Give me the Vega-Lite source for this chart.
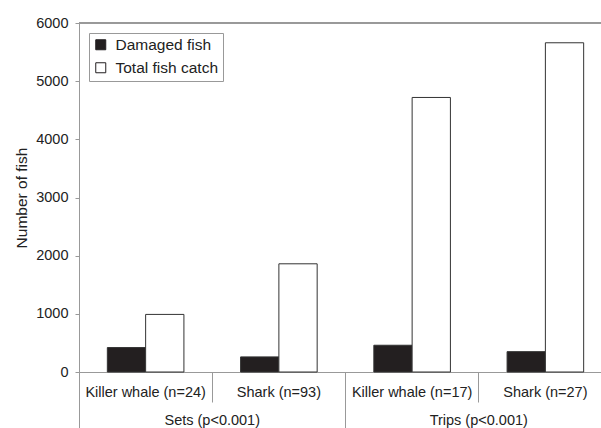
{
  "$schema": "https://vega.github.io/schema/vega-lite/v6.json",
  "autosize": {"type": "none"},
  "padding": {"left": 79, "top": 23, "right": 0, "bottom": 56},
  "width": 522,
  "height": 349,
  "background": "white",
  "config": {
    "font": "Liberation Sans",
    "view": {"stroke": null},
    "axis": {"labelColor": "#222", "titleColor": "#222", "labelFont": "Liberation Sans", "titleFont": "Liberation Sans"}
  },
  "data": {
    "values": [
      {"group": "Sets (p<0.001)", "cat": "Killer whale (n=24)", "series": "Damaged fish", "value": 420},
      {"group": "Sets (p<0.001)", "cat": "Killer whale (n=24)", "series": "Total fish catch", "value": 990},
      {"group": "Sets (p<0.001)", "cat": "Shark (n=93)", "series": "Damaged fish", "value": 260},
      {"group": "Sets (p<0.001)", "cat": "Shark (n=93)", "series": "Total fish catch", "value": 1860},
      {"group": "Trips (p<0.001)", "cat": "Killer whale (n=17)", "series": "Damaged fish", "value": 460},
      {"group": "Trips (p<0.001)", "cat": "Killer whale (n=17)", "series": "Total fish catch", "value": 4720},
      {"group": "Trips (p<0.001)", "cat": "Shark (n=27)", "series": "Damaged fish", "value": 350},
      {"group": "Trips (p<0.001)", "cat": "Shark (n=27)", "series": "Total fish catch", "value": 5660}
    ]
  },
  "layer": [
    {
      "mark": {"type": "bar", "stroke": "#333", "strokeWidth": 1},
      "encoding": {
        "x": {
          "field": "cat",
          "type": "nominal",
          "sort": null,
          "scale": {"range": [0, 533], "paddingInner": 0, "paddingOuter": 0},
          "axis": {
            "orient": "bottom",
            "title": null,
            "domainColor": "#999",
            "tickColor": "#999",
            "bandPosition": 0,
            "tickSize": 30,
            "labelPadding": -17,
            "labelFontSize": 14.5,
            "labelAngle": 0
          }
        },
        "xOffset": {
          "field": "series",
          "type": "nominal",
          "scale": {"paddingInner": 0, "paddingOuter": 0.74}
        },
        "y": {
          "field": "value",
          "type": "quantitative",
          "scale": {"domain": [0, 6000], "nice": false},
          "axis": {
            "title": "Number of fish",
            "titleFontSize": 15.5,
            "titleFontWeight": "normal",
            "titlePadding": 6,
            "format": "d",
            "values": [0, 1000, 2000, 3000, 4000, 5000, 6000],
            "grid": false,
            "domainColor": "#999",
            "tickColor": "#999",
            "tickSize": 4,
            "labelPadding": 7,
            "labelFontSize": 14.5
          }
        },
        "color": {
          "field": "series",
          "type": "nominal",
          "scale": {"range": ["#231f20", "#ffffff"]},
          "legend": {
            "title": null,
            "orient": "none",
            "legendX": 10,
            "legendY": 10,
            "direction": "vertical",
            "strokeColor": "#999",
            "fillColor": "white",
            "padding": 4,
            "symbolType": "square",
            "symbolSize": 100,
            "symbolStrokeColor": "#231f20",
            "symbolStrokeWidth": 1,
            "labelFontSize": 15.5,
            "labelColor": "#222",
            "labelOffset": 7,
            "rowPadding": 6,
            "cornerRadius": 0
          }
        }
      }
    },
    {
      "mark": {"type": "bar", "opacity": 0},
      "encoding": {
        "x": {
          "field": "group",
          "type": "nominal",
          "sort": null,
          "scale": {"range": [0, 533], "paddingInner": 0, "paddingOuter": 0},
          "axis": {
            "orient": "bottom",
            "title": null,
            "domain": false,
            "tickColor": "#999",
            "bandPosition": 0,
            "tickSize": 60,
            "labelPadding": -19,
            "labelFontSize": 14.5,
            "labelAngle": 0
          }
        }
      }
    },
    {
      "mark": {"type": "rule", "color": "#999", "strokeWidth": 1},
      "encoding": {"y": {"datum": 6000, "type": "quantitative"}}
    }
  ],
  "resolve": {"scale": {"x": "independent"}, "axis": {"x": "independent"}}
}
